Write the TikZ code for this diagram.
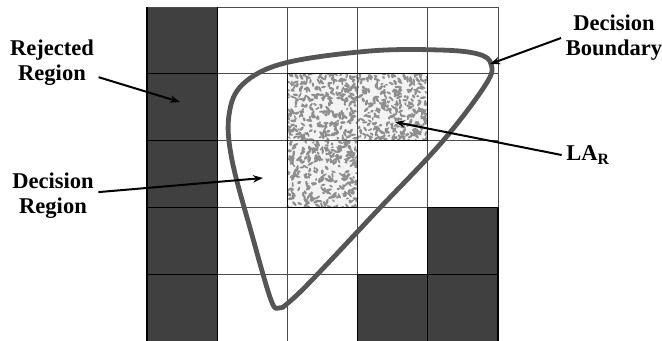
\documentclass[tikz,border=0pt]{standalone}
\usepackage{fontspec}
\setmainfont{Liberation Serif}
\usetikzlibrary{arrows.meta}
\definecolor{cellgray}{HTML}{404040}
\definecolor{curvegray}{HTML}{555555}
\definecolor{dotgray}{HTML}{8E8E8E}
\definecolor{paper}{HTML}{F3F3F3}
\begin{document}
\begin{tikzpicture}[x=0.75pt,y=-0.75pt,
  lbl/.style={font=\fontsize{16.9}{18.8}\selectfont\bfseries, align=center},
  pointer/.style={-{Stealth[length=7.5pt,width=5.5pt]}, line width=1.5pt},
  gridline/.style={black!70, line width=0.7pt}]
\useasboundingbox (0,0) rectangle (662,340);
\pgfmathsetseed{4711}

% rejected cells
\foreach \c/\r in {0/0,0/1,0/2,0/3,0/4,4/3,3/4,4/4}
  \fill[cellgray] ({147+70.2*\c},{7+66.8*\r}) rectangle ++(70.2,66.8);

% stippled cells (LA_R)
\foreach \c/\r in {2/1,3/1,2/2} {
  \begin{scope}
    \clip ({147+70.2*\c},{7+66.8*\r}) rectangle ++(70.2,66.8);
    \fill[paper] ({147+70.2*\c},{7+66.8*\r}) rectangle ++(70.2,66.8);
    \foreach \k in {1,...,300}
      \fill[dotgray, shift={({147+70.2*\c+72*rnd-1},{7+66.8*\r+69*rnd-1})}, rotate=360*rnd]
        (0,0) ellipse ({1.6+1.8*rnd} and {0.9+0.6*rnd});
  \end{scope}
}

% grid
\foreach \i in {0,...,5}
  \draw[gridline] ({147+70.2*\i},7) -- ({147+70.2*\i},341);
\foreach \i in {0,...,5}
  \draw[gridline] (147,{7+66.8*\i}) -- (498,{7+66.8*\i});
\draw[black, line width=0.9pt] (287.4,73.8) -- (427.8,73.8) -- (427.8,140.6) -- (357.6,140.6)
  -- (357.6,207.4) -- (287.4,207.4) -- cycle;
\draw[black, line width=0.9pt] (147,7) -- (147,341) (217.2,7) -- (217.2,341);
\foreach \i in {1,...,4}
  \draw[black, line width=0.9pt] (147,{7+66.8*\i}) -- (217.2,{7+66.8*\i});
\draw[black, line width=0.9pt] (427.8,207.4) -- (498,207.4) -- (498,341) (357.6,274.2) -- (498,274.2)
  (357.6,274.2) -- (357.6,341) (427.8,207.4) -- (427.8,341);

% decision boundary
\draw[curvegray, line width=3.6pt, line join=round] plot[smooth cycle, tension=0.6] coordinates {
  (271,300) (252,235) (232,160) (229,115) (243,84) (285,63) (370,51) (440,50)
  (478,54) (491,64) (486,84) (442,142) (376,212) (312,280) (288,303) (279,308)};

% labels
\node[lbl] (rej) at (52,63) {Rejected\\Region};
\node[lbl] (dreg) at (53,196) {Decision\\Region};
\node[lbl] (dbound) at (614,38) {Decision\\Boundary};
\node[lbl] (lar) at (588,155) {LA\textsubscript{R}};

\coordinate (rejpt) at (180,102);
\coordinate (dregpt) at (263,178);
\coordinate (bndpt) at (490,64);
\coordinate (larpt) at (395,122);

\draw[pointer] (rej) -- (rejpt);
\draw[pointer] (dreg) -- (dregpt);
\draw[pointer] (dbound.west) -- (bndpt);
\draw[pointer] (lar.west) -- (larpt);
\end{tikzpicture}
\end{document}
